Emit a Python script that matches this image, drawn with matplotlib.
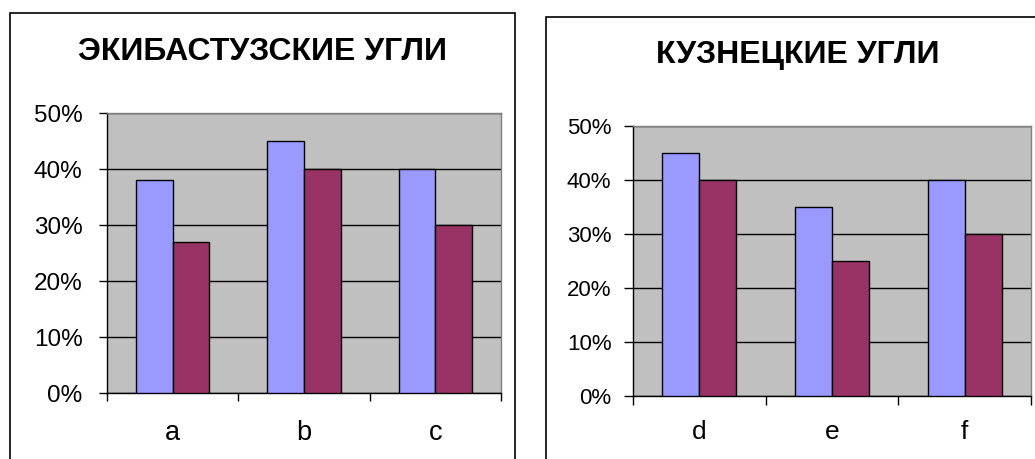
import numpy as np
import matplotlib.pyplot as plt
from matplotlib.patches import Rectangle

W, H = 1035, 459

left_title = "ЭКИБАСТУЗСКИЕ УГЛИ"
left_cats = ["a", "b", "c"]
left_s1 = [0.38, 0.45, 0.40]
left_s2 = [0.27, 0.40, 0.30]

right_title = "КУЗНЕЦКИЕ УГЛИ"
right_cats = ["d", "e", "f"]
right_s1 = [0.45, 0.35, 0.40]
right_s2 = [0.40, 0.25, 0.30]

yticks = [0, 0.1, 0.2, 0.3, 0.4, 0.5]
ylabels = ["0%", "10%", "20%", "30%", "40%", "50%"]

plt.rcParams['font.family'] = ['Liberation Sans', 'DejaVu Sans']

fig = plt.figure(figsize=(W / 100, H / 100), dpi=100)


def px_axes(x0, x1, ytop, ybot):
    return fig.add_axes([x0 / W, (H - ybot) / H, (x1 - x0) / W, (ybot - ytop) / H])


def draw(ax, cats, s1, s2, yfs, xfs, ticklen, ypad, xpad):
    x = np.arange(len(cats))
    bw = 0.28
    ax.set_facecolor("#c0c0c0")
    ax.bar(x - bw / 2, s1, bw, color="#9999ff", edgecolor="black", linewidth=1, zorder=3)
    ax.bar(x + bw / 2, s2, bw, color="#993366", edgecolor="black", linewidth=1, zorder=3)
    ax.set_xlim(-0.5, len(cats) - 0.5)
    ax.set_ylim(0, 0.5)
    ax.set_yticks(yticks)
    ax.set_yticklabels(ylabels, fontsize=yfs)
    ax.yaxis.grid(True, color="black", linewidth=1, zorder=1)
    ax.set_axisbelow(True)
    ax.set_xticks(x)
    ax.set_xticklabels(cats, fontsize=xfs)
    ax.set_xticks(np.arange(len(cats) + 1) - 0.5, minor=True)
    ax.tick_params(axis="x", which="major", length=0, pad=xpad)
    ax.tick_params(axis="x", which="minor", length=ticklen, width=1, direction="out")
    ax.tick_params(axis="y", length=ticklen, width=1, direction="out", pad=ypad)
    for s in ["top", "right"]:
        ax.spines[s].set_color("#808080")
        ax.spines[s].set_linewidth(1)
    for s in ["left", "bottom"]:
        ax.spines[s].set_color("black")
        ax.spines[s].set_linewidth(1)


# chart boxes
fig.patches.append(Rectangle((10 / W, -0.01), 505 / W, (H - 13) / H + 0.01,
                             transform=fig.transFigure, fill=False, edgecolor="black", linewidth=1.2))
fig.patches.append(Rectangle((546 / W, -0.01), 500 / W, (H - 17) / H + 0.01,
                             transform=fig.transFigure, fill=False, edgecolor="black", linewidth=1.2))

ax1 = px_axes(107, 501, 113, 393)
draw(ax1, left_cats, left_s1, left_s2, 17.5, 19.5, 6, 11.5, 19.5)
ax2 = px_axes(633, 1031, 126, 396)
draw(ax2, right_cats, right_s1, right_s2, 16, 19, 6.5, 9, 17)

fig.text(263 / W, 1 - 52 / H, left_title, ha="center", va="center", fontsize=23, fontweight="bold")
fig.text(798 / W, 1 - 54.5 / H, right_title, ha="center", va="center", fontsize=23, fontweight="bold")

fig.savefig("out.png", dpi=100)
